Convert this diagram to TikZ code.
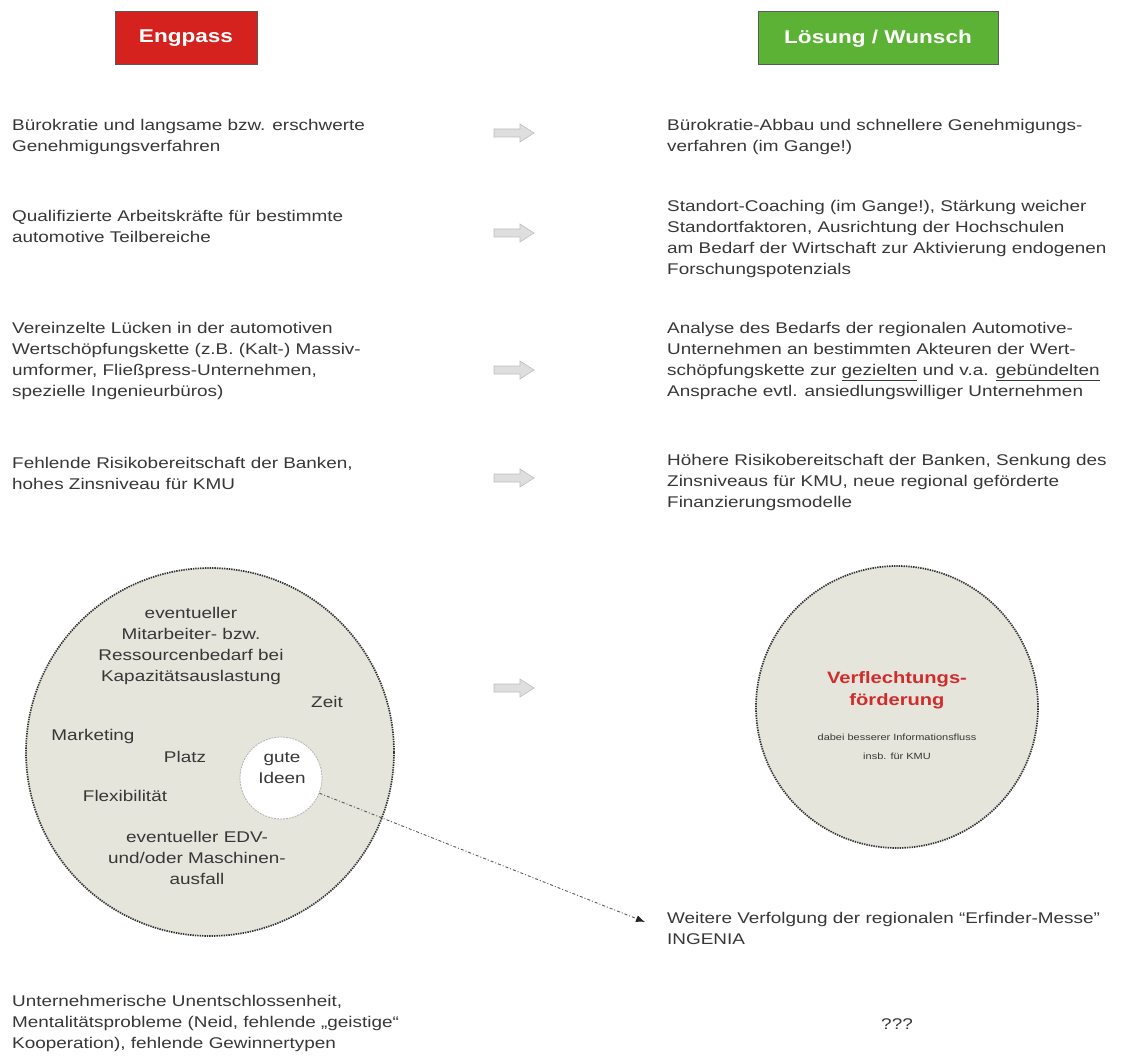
\documentclass[tikz,border=0pt]{standalone}
\usepackage{fontspec}
\setmainfont{Liberation Sans}[FakeStretch=1.22]
\usetikzlibrary{arrows.meta}
\definecolor{txt}{RGB}{55,55,55}
\definecolor{engred}{RGB}{214,34,30}
\definecolor{solgreen}{RGB}{92,178,52}
\definecolor{circfill}{RGB}{229,229,220}
\definecolor{circline}{RGB}{50,50,50}
\definecolor{arrfill}{RGB}{222,222,222}
\definecolor{arrline}{RGB}{190,190,190}
\definecolor{verred}{RGB}{208,44,44}
\begin{document}
\begin{tikzpicture}[x=1pt,y=-1pt,
  body/.style={font=\fontsize{15.5}{21}\selectfont, text=txt, inner sep=0pt},
  lefttext/.style={body, anchor=north west, align=left},
  ctext/.style={body, anchor=north, align=center},
  single/.style={body, anchor=base},
  header/.style={minimum width=142pt, minimum height=53pt, inner sep=0pt, draw=black!65, line width=1pt, text=white, font=\bfseries\fontsize{18.5}{22}\selectfont},
  blockarrow/.pic={\path[draw=arrline, fill=arrfill, line width=0.6pt]
      (-20,-4) -- (6,-4) -- (6,-9) -- (20,0) -- (6,9) -- (6,4) -- (-20,4) -- cycle;},
  bigcircle/.style={circle, fill=circfill, draw=circline, line width=1.7pt, dash pattern=on 1.4pt off 1pt, inner sep=0pt},
  ideacircle/.style={circle, fill=white, draw=gray!60, line width=0.8pt, dash pattern=on 2pt off 1pt, minimum size=82pt, inner sep=0pt},
  linkline/.style={draw=gray!70!black, line width=0.9pt, dash pattern=on 3pt off 2pt on 1pt off 2pt, -{Latex[length=9pt,width=7pt,color=black!85]}}
]
\useasboundingbox (0,0) rectangle (1121,1059);

% headers
\node[header, fill=engred] (eng) at (186,38.5) {Engpass};
\node[header, fill=solgreen, minimum width=240pt] (sol) at (878,38.5) {Lösung / Wunsch};

% left column
\node[lefttext] (l1) at (12,119.5) {Bürokratie und langsame bzw. erschwerte\\Genehmigungsverfahren};
\node[lefttext] (l2) at (12,210.5) {Qualifizierte Arbeitskräfte für bestimmte\\automotive Teilbereiche};
\node[lefttext] (l3) at (12,322.5) {Vereinzelte Lücken in der automotiven\\Wertschöpfungskette (z.B. (Kalt-) Massiv-\\umformer, Fließpress-Unternehmen,\\spezielle Ingenieurbüros)};
\node[lefttext] (l4) at (12,457.5) {Fehlende Risikobereitschaft der Banken,\\hohes Zinsniveau für KMU};
\node[lefttext] (l5) at (12,995.5) {Unternehmerische Unentschlossenheit,\\Mentalitätsprobleme (Neid, fehlende „geistige“\\Kooperation), fehlende Gewinnertypen};

% right column
\node[lefttext] (r1) at (667,119.5) {Bürokratie-Abbau und schnellere Genehmigungs-\\verfahren (im Gange!)};
\node[lefttext] (r2) at (667,200.5) {Standort-Coaching (im Gange!), Stärkung weicher\\Standortfaktoren, Ausrichtung der Hochschulen\\am Bedarf der Wirtschaft zur Aktivierung endogenen\\Forschungspotenzials};
\node[lefttext] (r3) at (667,322.5) {Analyse des Bedarfs der regionalen Automotive-\\Unternehmen an bestimmten Akteuren der Wert-\\schöpfungskette zur \underline{gezielten} und v.a. \underline{gebündelten}\\Ansprache evtl. ansiedlungswilliger Unternehmen};
\node[lefttext] (r4) at (667,454.5) {Höhere Risikobereitschaft der Banken, Senkung des\\Zinsniveaus für KMU, neue regional geförderte\\Finanzierungsmodelle};
\node[lefttext] (r5) at (667,912.5) {Weitere Verfolgung der regionalen “Erfinder-Messe”\\INGENIA};
\node[single] (r6) at (897,1029) {???};

% gray block arrows
\pic at (514,133) {blockarrow};
\pic at (514,233) {blockarrow};
\pic at (514,370) {blockarrow};
\pic at (514,478) {blockarrow};
\pic at (514,688) {blockarrow};

% left circle
\node[bigcircle, minimum size=368pt] (cl) at (210,752) {};
\node[ctext] (c1) at (191,607.5) {eventueller\\Mitarbeiter- bzw.\\Ressourcenbedarf bei\\Kapazitätsauslastung};
\node[single] (c2) at (327,707) {Zeit};
\node[single] (c3) at (93,740) {Marketing};
\node[single] (c4) at (185,762) {Platz};
\node[single] (c5) at (125,801) {Flexibilität};
\node[ctext] (c6) at (197,831) {eventueller EDV-\\und/oder Maschinen-\\ausfall};
\node[ideacircle] (gi) at (281,778) {};
\node[ctext] (gt) at (282,752) {gute\\Ideen};

% right circle
\node[bigcircle, minimum size=282pt] (cr) at (897,707) {};
\node[font=\bfseries\fontsize{16.5}{22}\selectfont, text=verred, align=center, anchor=north, inner sep=0pt] (vf) at (897,671.5) {Verflechtungs-\\förderung};
\node[font=\fontsize{9}{19}\selectfont, text=txt, align=center, anchor=north, inner sep=0pt] (vi) at (897,734) {dabei besserer Informationsfluss\\insb. für KMU};

% dashed link
\coordinate (tip) at (645,922);
\draw[linkline] (gi) -- (tip);
\end{tikzpicture}
\end{document}
